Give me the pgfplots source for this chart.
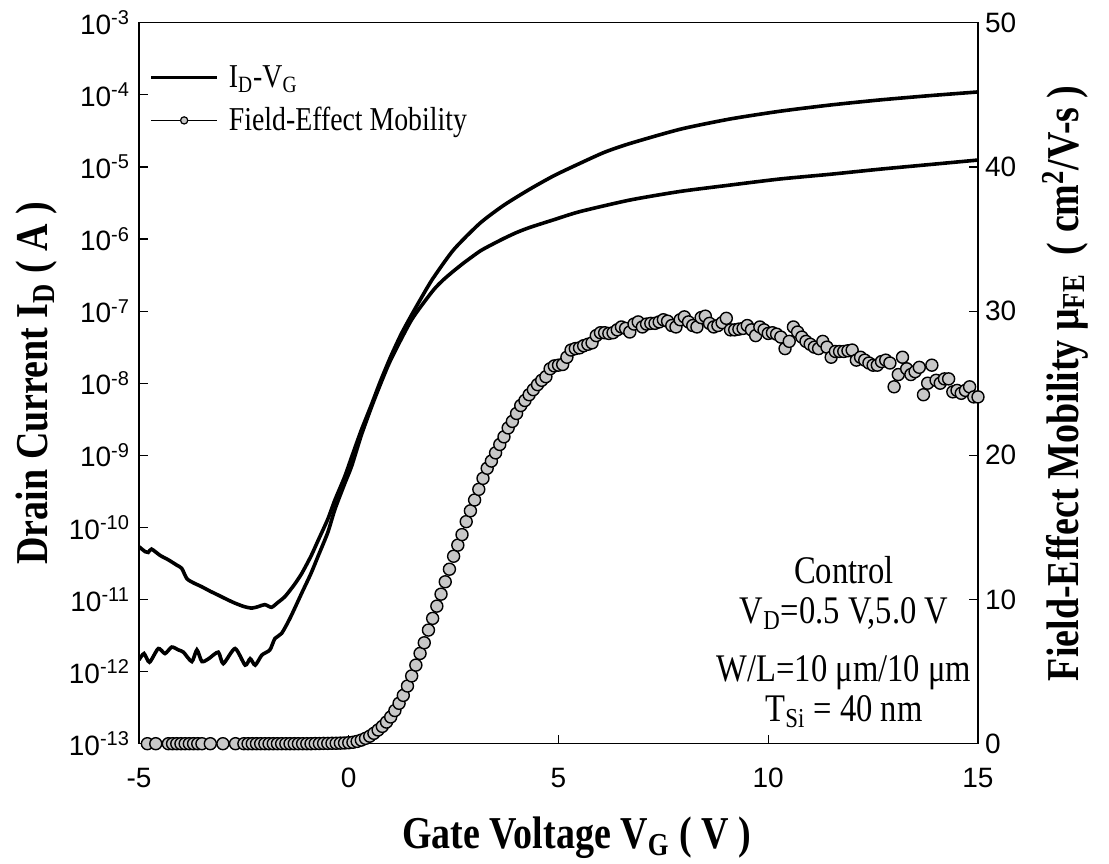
\documentclass[border=0pt]{standalone}
\usepackage{fontspec}
\setmainfont{Liberation Serif}
\newfontfamily\arial{Liberation Sans}
\usepackage{graphicx}
\usepackage{pgfplots}
\pgfplotsset{compat=1.18}
\usepackage{pgfplotstable}
\definecolor{mfill}{RGB}{200,200,200}
\newcommand\ex[1]{10\raisebox{4.8pt}{\fontsize{10}{10}\selectfont -#1}}
\pgfplotsset{
  legline/.style={legend image code/.code={\draw[##1] (0pt,0pt) -- (33pt,0pt);}},
  legmark/.style={legend image code/.code={\draw[mark repeat=2, mark phase=2, ##1] plot coordinates {(0pt,0pt) (16.5pt,0pt) (33pt,0pt)};}},
}

\pgfplotstableread{
V I
-5.00 5.4e-11
-4.85 4.6e-11
-4.78 4.5e-11
-4.70 5.0e-11
-4.50 4.1e-11
-4.30 3.55e-11
-4.10 3.0e-11
-3.98 2.7e-11
-3.86 1.95e-11
-3.70 1.7e-11
-3.51 1.51e-11
-3.30 1.3e-11
-3.11 1.15e-11
-2.90 1.0e-11
-2.71 8.9e-12
-2.50 8.0e-12
-2.31 7.6e-12
-2.15 8.0e-12
-2.00 8.5e-12
-1.84 7.8e-12
-1.70 9.0e-12
-1.52 1.10e-11
-1.30 1.6e-11
-1.12 2.3e-11
-0.90 4.0e-11
-0.73 6.6e-11
-0.50 1.3e-10
-0.33 2.4e-10
-0.10 5.0e-10
0.07 9.5e-10
0.30 2.24e-9
0.55 5.2e-9
0.75 1.05e-8
1.00 2.34e-8
1.25 4.8e-8
1.50 8.9e-8
1.75 1.6e-7
2.00 2.8e-7
2.50 7.1e-7
3.13 1.66e-6
3.70 2.95e-6
4.32 4.93e-6
4.90 7.6e-6
5.51 1.12e-5
6.10 1.6e-5
6.70 2.11e-5
7.90 3.33e-5
9.09 4.62e-5
10.28 5.92e-5
11.47 7.21e-5
12.66 8.49e-5
13.86 9.75e-5
15.00 1.096e-4
}\vdhigh

\pgfplotstableread{
V I
-5.00 1.45e-12
-4.88 1.78e-12
-4.75 1.35e-12
-4.54 2.09e-12
-4.38 1.78e-12
-4.22 2.19e-12
-4.06 2.0e-12
-3.94 1.86e-12
-3.74 1.38e-12
-3.62 2.0e-12
-3.50 1.38e-12
-3.34 1.51e-12
-3.11 1.86e-12
-2.99 1.29e-12
-2.71 2.09e-12
-2.47 1.23e-12
-2.35 1.51e-12
-2.23 1.23e-12
-2.07 1.70e-12
-1.88 2.0e-12
-1.76 2.88e-12
-1.60 3.39e-12
-1.40 5.5e-12
-1.12 1.23e-11
-0.90 2.3e-11
-0.73 4.0e-11
-0.50 8.5e-11
-0.33 1.78e-10
-0.10 4.0e-10
0.07 7.1e-10
0.30 1.9e-9
0.55 4.8e-9
0.75 9.5e-9
1.00 2.1e-8
1.50 7.6e-8
2.00 1.9e-7
2.25 2.7e-7
2.50 3.6e-7
2.75 4.7e-7
3.13 6.8e-7
3.40 8.3e-7
3.70 1.02e-6
4.00 1.23e-6
4.32 1.45e-6
4.90 1.86e-6
5.51 2.4e-6
6.70 3.47e-6
7.90 4.57e-6
9.09 5.6e-6
10.28 6.8e-6
11.47 7.9e-6
12.66 9.3e-6
13.86 1.08e-5
15.00 1.245e-5
}\vdlow

\pgfplotstableread{
V M
-4.8 0
-4.6 0
-4.3 0
-4.2 0
-4.1 0
-4.0 0
-3.9 0
-3.8 0
-3.7 0
-3.6 0
-3.5 0
-3.3 0
-3.0 0
-2.7 0
-2.5 0
-2.4 0
-2.3 0
-2.2 0
-2.1 0
-2.0 0
-1.9 0
-1.8 0
-1.7 0
-1.6 0
-1.5 0
-1.4 0
-1.3 0
-1.2 0
-1.1 0
-1.0 0
-0.9 0
-0.8 0.01
-0.7 0.01
-0.6 0.02
-0.5 0.02
-0.4 0.03
-0.3 0.03
-0.2 0.04
-0.1 0.05
0.0 0.07
0.1 0.1
0.2 0.16
0.3 0.25
0.4 0.37
0.5 0.52
0.6 0.72
0.7 0.95
0.8 1.2
0.9 1.5
1.0 1.85
1.1 2.3
1.2 2.8
1.3 3.35
1.4 4.0
1.5 4.7
1.6 5.45
1.7 6.26
1.8 7.0
1.9 7.88
2.0 8.69
2.1 9.54
2.2 10.37
2.3 11.23
2.4 12.1
2.5 13.0
2.6 13.77
2.7 14.5
2.8 15.4
2.9 16.15
3.0 16.9
3.1 17.64
3.2 18.4
3.3 19.1
3.4 19.6
3.5 20.17
3.6 20.75
3.7 21.28
3.8 21.9
3.9 22.35
4.0 22.9
4.1 23.45
4.2 23.8
4.3 24.2
4.4 24.55
4.5 24.9
4.6 25.2
4.7 25.45
4.8 26.0
4.9 26.2
5.0 26.25
5.1 26.3
5.2 26.8
5.3 27.3
5.4 27.4
5.5 27.45
5.6 27.6
5.7 27.7
5.8 27.8
5.9 28.3
6.0 28.5
6.1 28.5
6.2 28.45
6.3 28.5
6.4 28.7
6.5 28.9
6.6 28.8
6.7 28.55
6.8 29.1
6.9 29.25
7.0 28.9
7.1 29.1
7.2 29.15
7.3 29.15
7.4 29.25
7.5 29.4
7.6 29.3
7.7 29.0
7.8 28.9
7.9 29.4
8.0 29.6
8.1 29.25
8.2 29.0
8.3 28.9
8.4 29.55
8.5 29.65
8.6 29.15
8.7 28.9
8.8 29.0
8.9 29.2
9.0 29.5
9.1 28.7
9.2 28.7
9.3 28.75
9.4 28.8
9.5 29.0
9.6 28.7
9.7 28.3
9.8 28.9
9.9 28.7
10.0 28.45
10.1 28.5
10.2 28.4
10.3 28.2
10.4 27.4
10.5 27.9
10.6 28.9
10.7 28.55
10.8 28.2
10.9 27.9
11.0 27.7
11.1 27.5
11.2 27.4
11.3 27.9
11.4 27.5
11.5 26.8
11.6 27.2
11.7 27.2
11.8 27.2
11.9 27.25
12.0 27.3
12.1 26.6
12.2 26.8
12.3 26.6
12.4 26.4
12.5 26.25
12.6 26.25
12.7 26.5
12.8 26.6
12.9 26.4
13.0 24.75
13.1 25.6
13.2 26.8
13.3 26.0
13.4 25.6
13.5 25.8
13.6 26.1
13.7 24.2
13.8 25.0
13.9 26.25
14.0 25.2
14.1 25.0
14.2 25.3
14.3 25.3
14.4 24.4
14.5 24.5
14.6 24.3
14.7 24.5
14.8 24.75
14.9 24.05
15.0 24.05
}\mob

\begin{document}
\begin{tikzpicture}
\begin{axis}[name=ax,
  width=419.5pt, height=360.5pt, scale only axis,
  xmin=-5, xmax=15, ymode=log, ymin=1e-13, ymax=1e-3,
  xtick={-5,0,5,10,15}, xticklabels={-5,0,5,10,15},
  ytick={1e-13,1e-12,1e-11,1e-10,1e-9,1e-8,1e-7,1e-6,1e-5,1e-4,1e-3},
  yticklabels={\ex{13},\ex{12},\ex{11},\ex{10},\ex{9},\ex{8},\ex{7},\ex{6},\ex{5},\ex{4},\ex{3}},
  yminorticks=false, xminorticks=false,
  xtick pos=bottom, ytick pos=left, tick align=inside,
  major tick length=4.5pt,
  axis line style={line width=0.6pt},
  every tick/.style={line width=0.6pt, black},
  ticklabel style={font=\arial\fontsize{14}{14}\selectfont},
  xticklabel style={yshift=-8.5pt},
  yticklabel style={xshift=-1.5pt},
  xlabel={\scalebox{1}[1.2]{\bfseries Gate Voltage V\textsubscript{G} ( V )}},
  xlabel style={at={(axis description cs:0.5215,-0.131)}, anchor=center, font=\fontsize{19}{20}\selectfont},
  ylabel={\scalebox{1}[1.2]{\bfseries Drain Current I\textsubscript{D} ( A )}},
  ylabel style={at={(axis description cs:-0.1216,0.5)}, anchor=center, font=\fontsize{19}{20}\selectfont},
  clip mode=individual,
  legend cell align=left,
  legend style={draw=none, fill=none, at={(axis description cs:0.012,0.947)}, anchor=north west,
    font=\fontsize{13.9}{15}\selectfont, row sep=4.5pt, inner sep=0pt,
    nodes={inner xsep=5pt}},
]
\addlegendimage{line width=1.7pt, legline}
\addlegendentry{\scalebox{1}[1.2]{I\textsubscript{D}-V\textsubscript{G}}}
\addlegendimage{line width=0.6pt, mark=*, mark size=1.8pt, mark options={fill=mfill, draw=black, line width=0.6pt}, legmark}
\addlegendentry{\scalebox{1}[1.2]{Field-Effect Mobility}}
\addplot[black, line width=1.8pt, smooth, tension=0.4, forget plot] table[x=V, y=I] {\vdhigh};
\addplot[black, line width=1.8pt, smooth, tension=0.4, forget plot] table[x=V, y=I] {\vdlow};
\node[anchor=base, font=\fontsize{16.3}{18}\selectfont] at (rel axis cs:0.8403,0.2227) {\scalebox{1}[1.2]{Control}};
\node[anchor=base, font=\fontsize{16.3}{18}\selectfont] at (rel axis cs:0.8403,0.1673) {\scalebox{1}[1.2]{V\textsubscript{D}=0.5 V,5.0 V}};
\node[anchor=base, font=\fontsize{16.3}{18}\selectfont] at (rel axis cs:0.8403,0.0868) {\scalebox{1}[1.2]{W/L=10 μm/10 μm}};
\node[anchor=base, font=\fontsize{16.3}{18}\selectfont, inner ysep=1pt] at (rel axis cs:0.8403,0.0313) {\scalebox{1}[1.2]{T\textsubscript{Si} = 40 nm}};
\end{axis}
\begin{axis}[
  width=419.5pt, height=360.5pt, scale only axis,
  xmin=-5, xmax=15, ymin=0, ymax=50,
  axis y line*=right, axis x line=none,
  ytick={0,10,20,30,40,50}, yticklabels={0,10,20,30,40,50},
  tick align=inside, major tick length=4.5pt,
  axis line style={line width=0.6pt},
  every tick/.style={line width=0.6pt, black},
  ticklabel style={font=\arial\fontsize{14}{14}\selectfont},
  ylabel={\scalebox{1}[1.2]{\bfseries Field-Effect Mobility μ\textsubscript{FE}\ \ ( cm\textsuperscript{2}/V-s )}},
  ylabel style={at={(axis description cs:1.1037,0.5)}, anchor=center, rotate=0, font=\fontsize{19}{20}\selectfont},
  clip mode=individual,
]
\addplot[only marks, mark=*, mark size=3pt, mark options={fill=mfill, draw=black, line width=0.7pt}] table[x=V, y=M] {\mob};
\end{axis}
\pgfresetboundingbox
\path[use as bounding box] ([xshift=-69.5pt, yshift=-59.7pt]ax.south west) rectangle ([xshift=65.5pt, yshift=11.35pt]ax.north east);
\end{tikzpicture}
\end{document}
